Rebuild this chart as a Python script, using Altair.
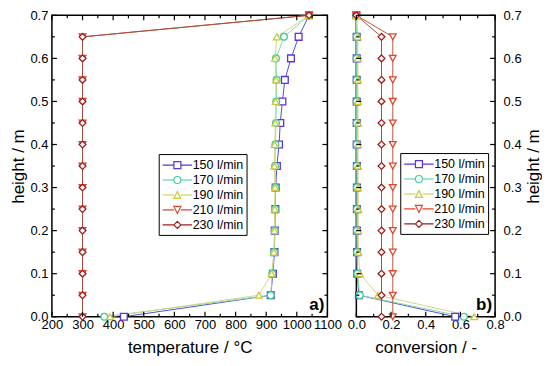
import altair as alt
import pandas as pd

# ---------------- data ----------------
heights = [0.00, 0.05, 0.10, 0.15, 0.20, 0.25, 0.30, 0.35, 0.40, 0.45, 0.50, 0.55, 0.60, 0.65, 0.70]
series = ["150 l/min", "170 l/min", "190 l/min", "210 l/min", "230 l/min"]

temp_150 = [435, 915, 922, 927, 928, 930, 931, 935, 942, 946, 953, 961, 981, 1006, 1040]
temp_170 = [371, 915, 920, 926, 928, 929, 930, 929, 930, 932, 933, 934, 932, 958, 1040]
temp_190 = [390, 876, 918, 925, 927, 928, 929, 927, 928, 930, 931, 932, 929, 935, 1040]
temp_210 = [300, 300, 300, 300, 300, 300, 300, 300, 300, 300, 300, 300, 300, 300, 1040]
temp_230 = [300, 300, 300, 300, 300, 300, 300, 300, 300, 300, 300, 300, 300, 300, 1040]

conv_150 = [0.57, 0.015, 0.005, 0.004, 0.003, 0.003, 0.003, 0.003, 0.002, 0.002, 0.002, 0.002, 0.002, 0.002, 0.0]
conv_170 = [0.62, 0.020, 0.006, 0.004, 0.003, 0.003, 0.003, 0.003, 0.002, 0.002, 0.002, 0.002, 0.002, 0.002, 0.0]
conv_190 = [0.68, 0.125, 0.020, 0.012, 0.011, 0.011, 0.010, 0.010, 0.010, 0.010, 0.009, 0.009, 0.009, 0.008, 0.0]
conv_210 = [0.21, 0.21, 0.21, 0.21, 0.21, 0.21, 0.21, 0.21, 0.21, 0.21, 0.21, 0.21, 0.21, 0.21, 0.0]
conv_230 = [0.145, 0.145, 0.145, 0.145, 0.145, 0.145, 0.145, 0.145, 0.145, 0.145, 0.145, 0.145, 0.145, 0.145, 0.0]

temp_major = [200, 300, 400, 500, 600, 700, 800, 900, 1000, 1100]
temp_minor = [250, 350, 450, 550, 650, 750, 850, 950, 1050]
conv_major = [0.0, 0.2, 0.4, 0.6, 0.8]
conv_minor = [0.1, 0.3, 0.5, 0.7]
h_major = [0.0, 0.1, 0.2, 0.3, 0.4, 0.5, 0.6, 0.7]
h_minor = [0.05, 0.15, 0.25, 0.35, 0.45, 0.55, 0.65]

panel_labels = ["a)", "b)"]

marker_colors = ["#5a35dc", "#3fcf9a", "#c9c93a", "#e2462a", "#9c1f1a"]
line_colors = ["#4f4fe0", "#86e0a8", "#d6d685", "#c8553c", "#a5503e"]
marker_shapes = ["square", "circle", "triangle-up", "triangle-down", "diamond"]

# legend glyphs: a short line with the marker in its middle
r = 0.5
c = 1.1
a, b = -1.0, 3.2
legend_paths = [
    f"M{a},0H{c-r}M{c+r},0H{b}M{c-r},-{r}H{c+r}V{r}H{c-r}Z",
    f"M{a},0H{c-r}M{c+r},0H{b}M{c-r},0A{r},{r} 0 1,0 {c+r},0A{r},{r} 0 1,0 {c-r},0Z",
    f"M{a},0H{c-r}M{c+r},0H{b}M{c},-{r}L{c+r},{r}L{c-r},{r}Z",
    f"M{a},0H{c-r}M{c+r},0H{b}M{c},{r}L{c+r},-{r}L{c-r},-{r}Z",
    f"M{a},0H{c-r}M{c+r},0H{b}M{c},-{r}L{c+r},0L{c},{r}L{c-r},0Z",
]

temps = [temp_150, temp_170, temp_190, temp_210, temp_230]
convs = [conv_150, conv_170, conv_190, conv_210, conv_230]
rows = []
for s, tt, cc in zip(series, temps, convs):
    for h, t, cv in zip(heights, tt, cc):
        rows.append({"series": s, "h": h, "T": t, "C": cv})
df = pd.DataFrame(rows)

FONT = "Liberation Sans"
H = 302


def panel(xfield, xdom, xtitle, xmaj, xmin, W, yorient, lx, ly, label, fmt):
    xs = alt.Scale(domain=xdom, nice=False, zero=False)
    ys = alt.Scale(domain=[0, 0.7], nice=False, zero=False)
    xaxis = alt.Axis(values=xmaj, title=xtitle, ticks=False, domain=False, grid=False,
                     labelFontSize=13, titleFontSize=17, labelPadding=2, titlePadding=8,
                     labelOverlap=False, labelFlush=False, format=fmt, titleFontWeight="normal",
                     labelColor="black", titleColor="black")
    if yorient == "left":
        yaxis = alt.Axis(values=h_major, title="height / m", orient="left", ticks=False, domain=False,
                         grid=False, labelFontSize=13, titleFontSize=17, labelPadding=4, titlePadding=2.5,
                         labelOverlap=False, labelFlush=False,
                         format=".1f", titleFontWeight="normal", labelColor="black", titleColor="black")
    else:
        yaxis = alt.Axis(values=h_major, title="height / m", orient="right", ticks=False, domain=False,
                         grid=False, labelFontSize=13, titleFontSize=17, labelPadding=8, titlePadding=4,
                         titleAngle=270, titleBaseline="top", labelOverlap=False, labelFlush=False,
                         format=".1f", titleFontWeight="normal", labelColor="black", titleColor="black")
    X = alt.X(f"{xfield}:Q", scale=xs, axis=xaxis)
    Y = alt.Y("h:Q", scale=ys, axis=yaxis)
    base = alt.Chart(df)
    lines = base.mark_line(strokeWidth=1).encode(
        x=X, y=Y,
        color=alt.Color("series:N", scale=alt.Scale(domain=series, range=line_colors), legend=None),
        order=alt.Order("h:Q"),
    )
    pts = base.mark_point(fill="white", fillOpacity=1, strokeWidth=1.3, size=46, opacity=1).encode(
        x=X, y=Y,
        stroke=alt.Stroke("series:N", scale=alt.Scale(domain=series, range=marker_colors), legend=None),
        shape=alt.Shape("series:N", scale=alt.Scale(domain=series, range=marker_shapes), legend=None),
    )
    leg = alt.Legend(orient="none", legendX=lx, legendY=ly, title=None, symbolOpacity=1,
                     strokeColor="black", fillColor="white", padding=3, labelFontSize=12.5,
                     symbolSize=196, symbolStrokeWidth=1.2, labelOffset=15, rowPadding=0,
                     labelColor="black", symbolFillColor="white")
    legl = base.mark_point(opacity=0, filled=False, size=1).encode(
        x=X, y=Y,
        stroke=alt.Stroke("series:N", scale=alt.Scale(domain=series, range=marker_colors), legend=leg),
        shape=alt.Shape("series:N", scale=alt.Scale(domain=series, range=legend_paths), legend=leg),
    )

    XV = alt.X("v:Q", scale=xs, axis=xaxis)
    YV = alt.Y("v:Q", scale=ys, axis=yaxis)

    def xr(vals, y0, y1):
        return alt.Chart(pd.DataFrame({"v": vals})).mark_rule(color="black", strokeWidth=1.2).encode(
            x=XV, y=alt.value(y0), y2=alt.value(y1))

    def yr(vals, x0, x1):
        return alt.Chart(pd.DataFrame({"v": vals})).mark_rule(color="black", strokeWidth=1.2).encode(
            y=YV, x=alt.value(x0), x2=alt.value(x1))

    M, m = 5, 3
    ticks = [
        xr(xmaj, H, H - M), xr(xmin, H, H - m), xr(xmaj, 0, M), xr(xmin, 0, m),
        yr(h_major, 0, M), yr(h_minor, 0, m), yr(h_major, W, W - M), yr(h_minor, W, W - m),
    ]
    txt = alt.Chart(pd.DataFrame({"x": [xdom[1]], "h": [0.0], "t": [label]})).mark_text(
        align="right", baseline="bottom", dx=-3, dy=-3, fontSize=17, fontWeight="bold", color="black"
    ).encode(x=alt.X("x:Q", scale=xs, axis=xaxis), y=Y, text="t:N")

    return alt.layer(lines, pts, legl, *ticks, txt).resolve_scale(
        color="independent", stroke="independent", shape="independent"
    ).properties(width=W, height=H)


left = panel("T", [200, 1100], "temperature / °C", temp_major, temp_minor, 276, "left", 107, 139,
             panel_labels[0], "d")
right = panel("C", [0, 0.8], "conversion / -", conv_major, conv_minor, 139, "right", 44, 138,
              panel_labels[1], ".1f")

chart = alt.hconcat(left, right, spacing=29, bounds="flush").resolve_scale(
    color="independent", stroke="independent", shape="independent"
).resolve_legend(stroke="independent", shape="independent").properties(
    padding={"left": 0, "top": 0, "right": 0, "bottom": 0}
).configure(font=FONT).configure_view(stroke="black", strokeWidth=1.5)

chart.save("out.html", embed_options={"renderer": "svg", "actions": False})
